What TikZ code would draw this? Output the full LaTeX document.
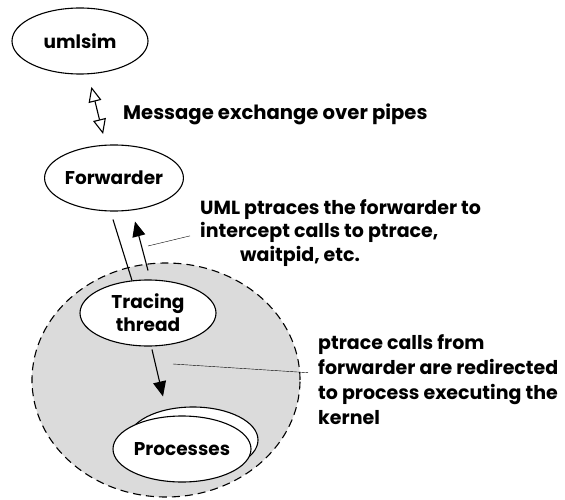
\documentclass[tikz,border=0pt]{standalone}
\usepackage{fontspec}
\setmainfont{Poppins}
\usetikzlibrary{arrows.meta}
\usetikzlibrary{shapes.geometric}
\usetikzlibrary{positioning}
\definecolor{kgray}{gray}{0.86}
\tikzset{proc/.style = {draw, ellipse, fill=white, line width=1.1pt,
                        minimum width=136pt, minimum height=66pt, inner sep=0pt,
                        align=center, font=\bfseries\fontsize{18.5}{23}\selectfont},
         note/.style = {align=left, inner sep=0pt,
                        font=\bfseries\fontsize{19}{25.3}\selectfont},
         open/.style = {{Triangle[open, length=15pt, width=13pt]}-{Triangle[open, length=15pt, width=13pt]}},
         solid tip/.style = {-{Triangle[length=15pt, width=13pt]}}}

\begin{document}
\begin{tikzpicture}[x=1pt, y=-1pt]
    \useasboundingbox (0, 0) rectangle (565, 500);

    % kernel area
    \node (kern) [ellipse, draw, fill=kgray, line width=1.1pt, dash pattern=on 8pt off 5pt,
                  minimum width=268pt, minimum height=234pt] at (166, 380) {};

    \node (umlsim) [proc] at (80, 41) {umlsim};
    \node (fwd) [proc] at (114, 178) {Forwarder};
    \node (trace) [proc] at (148, 313) {Tracing\\thread};
    \node (procb) [proc, minimum width=130pt] at (193, 440) {};
    \node (proc) [proc, minimum width=138pt] at (182, 449) {Processes};

    \node (msg) [note, anchor=base west, font=\bfseries\fontsize{19.6}{25}\selectfont] at (123, 120)
        {Message exchange over pipes};
    \node (note1) [note, anchor=north west, font=\bfseries\fontsize{19}{23.7}\selectfont] at (200, 199)
        {UML ptraces the forwarder to\\intercept calls to ptrace,\\\hspace*{40pt}waitpid, etc.};
    \node (note2) [note, anchor=north west] at (318, 334)
        {ptrace calls from\\forwarder are redirected\\to process executing the\\kernel};

    \draw [open, line width=1.1pt, shorten <=13pt, shorten >=11pt] (umlsim) -- (fwd);
    \draw [line width=1.1pt] ([xshift=-1pt, yshift=-8pt]fwd.south) -- ([xshift=-16pt, yshift=-1pt]trace.north);
    \draw [solid tip, line width=1.1pt] ([yshift=9pt]trace.north) -- ([xshift=21pt, yshift=-10pt]fwd.south);
    \draw [solid tip, line width=1.1pt] ([xshift=4pt, yshift=-3pt]trace.south) -- ([xshift=-19pt, yshift=19pt]proc.north);

    \coordinate (c1) at (148, 246);
    \coordinate (c2) at (173, 364);
    \draw (c1) -- ([xshift=-10pt, yshift=-3pt]note1.west);
    \draw (c2) -- ([xshift=-10pt, yshift=7pt]note2.west);
\end{tikzpicture}
\end{document}
